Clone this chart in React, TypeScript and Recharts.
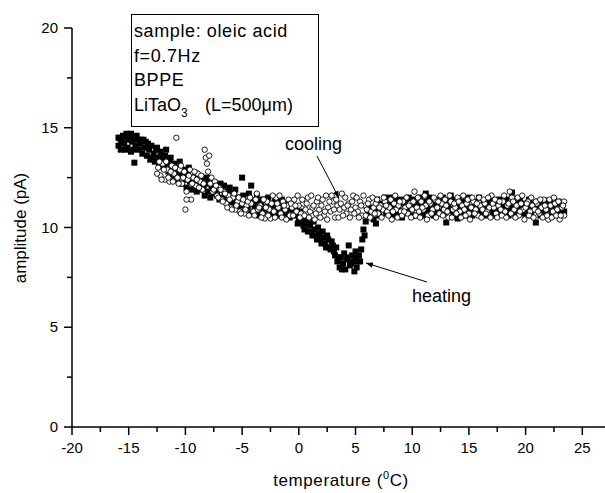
import { ScatterChart, Scatter, XAxis, YAxis } from 'recharts'

// temperature (°C), amplitude (pA) — filled squares
const heatingPoints: [number, number][] = [
  [-15.9, 14.1], [-15.8, 14.5], [-15.7, 13.9], [-15.6, 14.3], [-15.5, 14.6], [-15.4, 14.2], [-15.2, 14.7],
  [-15.1, 14.0], [-15.0, 14.4], [-14.9, 14.6], [-14.8, 13.8], [-14.7, 14.3], [-14.5, 14.5], [-14.5, 13.25],
  [-14.4, 14.1], [-14.3, 14.6], [-14.0, 14.2], [-13.9, 14.4], [-13.8, 13.7], [-13.6, 14.0], [-13.5, 14.3],
  [-13.4, 13.6], [-13.2, 13.9], [-13.1, 13.4], [-13.0, 14.1], [-12.8, 13.7], [-12.7, 13.3], [-12.6, 13.9],
  [-12.4, 13.5], [-12.3, 13.2], [-12.2, 13.8], [-12.0, 13.4], [-11.9, 13.0], [-11.8, 13.6], [-11.6, 13.2],
  [-11.5, 12.8], [-11.4, 13.4], [-11.2, 13.0], [-11.1, 12.6], [-11.0, 13.2], [-10.8, 12.8], [-10.7, 12.4],
  [-10.6, 13.0], [-10.4, 12.6], [-10.3, 12.2], [-10.2, 12.9], [-10.0, 12.4], [-9.9, 12.0], [-9.8, 12.7],
  [-9.6, 12.3], [-9.5, 11.9], [-9.4, 12.5], [-9.2, 12.1], [-9.1, 12.7], [-9.0, 11.8], [-8.8, 12.3],
  [-8.7, 11.9], [-8.6, 12.5], [-8.4, 12.0], [-8.3, 11.6], [-8.2, 12.2], [-8.0, 11.8], [-7.9, 12.3],
  [-7.8, 11.5], [-7.6, 12.0], [-7.5, 11.7], [-7.4, 12.2], [-7.2, 11.6], [-7.1, 12.0], [-7.0, 11.4],
  [-6.8, 11.9], [-6.7, 11.5], [-6.6, 12.1], [-6.4, 11.6], [-6.3, 11.3], [-6.2, 11.8], [-6.0, 11.5],
  [-5.8, 11.2], [-5.7, 11.7], [-5.5, 11.3], [-5.4, 11.0], [-5.2, 11.5], [-5.0, 12.5], [-5.0, 11.1],
  [-4.8, 10.8], [-4.7, 11.3], [-4.5, 11.0], [-4.3, 11.4], [-4.2, 12.1], [-4.2, 10.7], [-4.0, 11.2],
  [-3.8, 10.9], [-3.6, 11.3], [-3.5, 10.6], [-3.3, 11.1], [-3.1, 10.8], [-3.0, 11.4], [-2.8, 10.9],
  [-2.6, 11.2], [-2.4, 10.7], [-2.2, 11.1], [-2.0, 10.8], [-1.8, 11.3], [-1.6, 10.6], [-1.4, 11.0],
  [-1.2, 10.7], [-1.0, 11.2], [-0.8, 10.5], [-0.6, 10.9], [-0.4, 10.6], [-0.2, 11.0], [0.0, 10.4],
  [0.2, 10.6], [0.4, 10.1], [0.6, 10.3], [0.8, 9.8], [1.0, 10.1], [1.2, 9.6], [1.4, 9.9], [1.6, 9.4],
  [1.8, 9.7], [2.0, 9.2], [2.2, 9.5], [2.4, 9.0], [2.6, 9.4], [2.8, 8.9], [3.0, 9.1], [3.2, 8.6],
  [3.4, 8.3], [3.6, 8.0], [3.7, 8.5], [3.9, 8.2], [4.0, 8.7], [4.1, 7.9], [4.3, 8.4], [4.4, 9.1],
  [4.5, 8.1], [4.7, 8.6], [4.8, 8.3], [5.0, 8.5], [5.1, 8.0], [5.3, 8.6], [5.4, 8.3], [5.5, 8.9],
  [5.6, 9.4], [5.7, 9.9], [5.8, 9.6], [5.9, 10.3], [6.1, 10.7], [6.3, 11.0], [6.6, 10.4], [6.8, 10.2],
  [7.0, 10.9], [7.3, 11.2], [7.6, 11.5], [7.9, 11.3], [8.2, 11.1], [8.4, 10.8], [8.6, 11.2], [8.8, 10.9],
  [9.0, 11.4], [9.2, 10.7], [9.4, 11.1], [9.6, 10.9], [9.8, 11.3], [10.0, 10.6], [10.2, 11.0], [10.4, 11.2],
  [10.6, 10.8], [10.8, 11.1], [11.0, 10.9], [11.2, 11.7], [11.4, 11.0], [11.6, 10.7], [11.8, 11.2],
  [12.0, 10.9], [12.2, 11.1], [12.4, 10.8], [12.6, 11.3], [12.8, 10.9], [13.0, 10.25], [13.2, 11.0],
  [13.4, 11.6], [13.6, 10.8], [13.8, 11.2], [14.0, 10.45], [14.2, 11.0], [14.4, 11.3], [14.6, 10.9],
  [14.8, 11.1], [15.0, 11.5], [15.2, 10.8], [15.4, 11.0], [15.6, 11.2], [15.8, 10.9], [16.0, 11.1],
  [16.2, 10.7], [16.4, 11.0], [16.6, 11.3], [16.8, 10.9], [17.0, 11.1], [17.2, 10.8], [17.4, 11.2],
  [17.6, 10.9], [17.8, 11.0], [18.0, 11.3], [18.2, 10.8], [18.4, 11.1], [18.6, 10.9], [18.8, 11.75],
  [19.0, 11.0], [19.2, 10.8], [19.4, 11.2], [19.6, 10.9], [19.8, 11.1], [20.0, 10.7], [20.2, 11.0],
  [20.4, 11.2], [20.6, 10.9], [20.9, 10.25], [21.0, 11.1], [21.2, 10.8], [21.4, 11.0], [21.6, 11.2],
  [21.9, 11.35], [22.0, 10.9], [22.2, 11.1], [22.4, 10.8], [22.6, 11.0], [22.8, 11.2], [23.0, 10.9],
  [23.2, 11.1], [23.4, 10.8],
]

// second sweep of the heating run (the points in between)
const heatingPoints2: [number, number][] = [
  [-15.9, 14.5], [-15.7, 14.4], [-15.3, 13.9], [-15.1, 14.5], [-14.8, 14.7], [-14.6, 13.9], [-14.2, 14.4],
  [-14.1, 13.9], [-13.7, 14.4], [-13.3, 14.2], [-12.9, 13.5], [-12.5, 14.0], [-12.1, 13.6], [-11.7, 13.9],
  [-11.3, 13.5], [-10.9, 12.9], [-10.5, 13.3], [-10.1, 12.6], [-9.7, 13.0], [-9.3, 12.4], [-8.9, 12.6],
  [-8.5, 12.2], [-8.1, 12.5], [-7.7, 12.1], [-7.3, 11.9], [-6.9, 12.2], [-6.5, 11.8], [-6.1, 12.0],
  [-5.9, 11.4], [-5.6, 11.9], [-5.3, 11.2], [-4.9, 11.6], [-4.6, 11.2], [-4.4, 11.7], [-3.9, 11.0],
  [-3.7, 11.6], [-3.4, 10.8], [-3.2, 11.4], [-2.9, 11.0], [-2.7, 11.5], [-2.5, 10.8], [-2.1, 11.3],
  [-1.9, 10.7], [-1.7, 11.0], [-1.5, 11.4], [-1.1, 10.9], [-0.9, 10.6], [-0.5, 11.1], [-0.3, 10.7],
  [-0.1, 10.2], [0.1, 10.8], [0.3, 10.3], [0.5, 9.9], [0.7, 10.5], [0.9, 10.2], [1.1, 9.8], [1.3, 10.3],
  [1.5, 9.6], [1.7, 10.0], [1.9, 9.4], [2.1, 9.8], [2.3, 9.2], [2.5, 9.6], [2.7, 9.0], [2.9, 9.3],
  [3.1, 8.8], [3.3, 9.0], [3.5, 8.5], [3.8, 7.9], [4.2, 8.5], [4.6, 8.2], [4.9, 7.8], [5.0, 8.8],
  [5.2, 8.3], [6.5, 10.9], [6.9, 11.4], [7.1, 10.6], [7.5, 11.0], [7.7, 10.7], [8.1, 11.5], [8.3, 10.6],
  [8.5, 11.4], [8.7, 10.7], [8.9, 11.2], [9.1, 10.5], [9.3, 11.3], [9.5, 10.8], [9.7, 11.5], [9.9, 11.0],
  [10.1, 11.4], [10.3, 10.6], [10.5, 11.1], [10.7, 11.5], [10.9, 10.6], [11.1, 11.3], [11.3, 10.8],
  [11.5, 11.5], [11.7, 11.1], [11.9, 10.6], [12.1, 11.4], [12.3, 10.7], [12.5, 11.2], [12.7, 11.5],
  [12.9, 10.7], [13.1, 11.3], [13.3, 10.9], [13.5, 11.4], [13.7, 10.6], [13.9, 11.1], [14.1, 11.4],
  [14.3, 10.7], [14.5, 11.2], [14.7, 10.6], [14.9, 11.4], [15.1, 11.0], [15.3, 10.6], [15.5, 11.3],
  [15.7, 10.8], [15.9, 11.5], [16.1, 10.9], [16.3, 11.3], [16.5, 10.6], [16.7, 11.1], [16.9, 11.4],
  [17.1, 10.6], [17.3, 11.2], [17.5, 10.9], [17.7, 11.4], [17.9, 10.7], [18.1, 11.1], [18.3, 11.4],
  [18.5, 10.6], [18.7, 11.0], [18.9, 11.3], [19.1, 10.6], [19.3, 11.1], [19.5, 11.4], [19.7, 10.7],
  [19.9, 11.2], [20.1, 10.9], [20.3, 11.4], [20.5, 10.6], [20.7, 11.1], [21.1, 11.3], [21.3, 10.6],
  [21.5, 11.1], [21.7, 10.8], [22.1, 11.3], [22.3, 10.6], [22.5, 11.2], [22.7, 10.7], [22.9, 11.3],
  [23.1, 10.7], [23.3, 11.2],
]

// open circles
const coolingPoints: [number, number][] = [
  [-12.4, 13.0], [-12.2, 12.6], [-12.0, 13.2], [-11.8, 12.4], [-11.6, 12.9], [-11.4, 12.3], [-11.2, 13.1],
  [-11.0, 12.7], [-10.8, 14.5], [-10.7, 12.5], [-10.5, 12.9], [-10.3, 12.2], [-10.1, 12.8], [-9.9, 11.8],
  [-9.8, 12.4], [-9.6, 12.9], [-9.5, 11.4], [-9.3, 12.5], [-9.1, 12.1], [-8.9, 12.7], [-8.7, 12.3],
  [-8.5, 11.9], [-8.3, 13.9], [-8.2, 13.5], [-8.1, 13.2], [-8.0, 12.8], [-7.8, 12.2], [-7.6, 11.8],
  [-7.4, 12.3], [-7.2, 11.6], [-7.0, 12.0], [-6.8, 11.4], [-6.6, 11.8], [-6.4, 11.2], [-6.2, 11.6],
  [-6.0, 11.0], [-5.8, 11.5], [-5.6, 10.9], [-5.4, 11.3], [-5.2, 10.8], [-5.0, 11.2], [-4.8, 10.7],
  [-4.6, 11.1], [-4.4, 10.6], [-4.2, 11.2], [-4.0, 10.8], [-3.8, 11.4], [-3.6, 10.9], [-3.4, 11.1],
  [-3.2, 10.7], [-3.0, 10.45], [-2.8, 11.3], [-2.6, 10.9], [-2.5, 10.45], [-2.4, 11.2], [-2.2, 10.8],
  [-2.0, 11.5], [-1.8, 11.0], [-1.6, 10.7], [-1.4, 11.3], [-1.2, 10.9], [-1.0, 11.1], [-0.8, 10.6],
  [-0.6, 11.0], [-0.4, 11.4], [-0.2, 10.8], [0.0, 11.1], [0.2, 10.7], [0.4, 11.2], [0.6, 10.9],
  [0.8, 11.5], [1.0, 10.8], [1.2, 11.0], [1.4, 10.4], [1.6, 11.3], [1.8, 10.9], [2.0, 11.1], [2.2, 10.6],
  [2.4, 11.6], [2.6, 11.0], [2.8, 10.8], [3.0, 11.3], [3.2, 10.5], [3.4, 11.1], [3.6, 10.9], [3.8, 11.7],
  [4.0, 11.0], [4.2, 10.7], [4.4, 11.2], [4.6, 10.9], [4.8, 11.6], [5.0, 11.0], [5.2, 10.8], [5.4, 11.3],
  [5.6, 10.6], [5.8, 11.1], [6.0, 10.9], [6.2, 11.4], [6.4, 10.8], [6.6, 11.0], [6.8, 11.2], [7.0, 10.7],
  [7.2, 11.1], [7.4, 10.9], [7.6, 11.3], [7.8, 10.8], [8.0, 11.0], [8.2, 10.4], [8.4, 11.2], [8.6, 10.9],
  [8.8, 11.1], [9.0, 10.8], [9.2, 11.3], [9.4, 11.0], [9.6, 10.7], [9.8, 11.2], [10.0, 10.9], [10.2, 11.8],
  [10.4, 11.0], [10.6, 10.8], [10.8, 11.3], [11.0, 10.9], [11.2, 11.1], [11.4, 10.6], [11.6, 11.2],
  [11.8, 10.9], [12.0, 11.4], [12.2, 11.0], [12.4, 10.7], [12.6, 11.2], [12.8, 10.9], [13.0, 11.1],
  [13.2, 10.5], [13.4, 11.3], [13.6, 10.9], [13.8, 11.0], [14.0, 11.5], [14.2, 10.8], [14.4, 11.1],
  [14.6, 10.9], [14.8, 11.2], [15.0, 10.7], [15.2, 11.0], [15.4, 11.3], [15.6, 10.9], [15.8, 10.6],
  [16.0, 11.1], [16.2, 10.9], [16.4, 11.2], [16.6, 10.8], [16.8, 11.0], [17.0, 11.6], [17.2, 11.0],
  [17.4, 10.7], [17.6, 11.1], [17.8, 10.9], [18.0, 11.3], [18.2, 10.8], [18.4, 11.1], [18.6, 11.8],
  [18.8, 11.5], [19.0, 10.9], [19.2, 11.1], [19.4, 10.6], [19.6, 11.2], [19.8, 10.9], [20.0, 11.0],
  [20.2, 11.3], [20.4, 10.8], [20.6, 11.1], [20.8, 10.9], [21.0, 11.2], [21.2, 10.7], [21.4, 11.0],
  [21.6, 11.4], [21.8, 10.9], [22.0, 10.4], [22.2, 11.1], [22.4, 10.8], [22.6, 11.2], [22.8, 10.9],
  [23.0, 10.4], [23.2, 11.0], [23.4, 11.3], [23.4, 10.6],
]

const coolingPoints2: [number, number][] = [
  [-12.5, 12.7], [-12.3, 13.3], [-12.1, 12.4], [-11.9, 12.9], [-11.7, 13.3], [-11.5, 12.5], [-11.3, 12.8],
  [-11.1, 12.3], [-10.9, 13.0], [-10.6, 12.2], [-10.4, 13.1], [-10.2, 12.5], [-10.0, 10.9], [-9.9, 11.4],
  [-9.7, 12.6], [-9.4, 12.2], [-9.2, 12.8], [-9.0, 12.4], [-8.8, 12.0], [-8.6, 12.6], [-8.4, 12.2],
  [-7.9, 13.6], [-7.7, 12.5], [-7.5, 11.9], [-7.3, 12.1], [-7.1, 11.5], [-6.9, 11.9], [-6.7, 11.3],
  [-6.5, 11.7], [-6.3, 11.0], [-6.1, 11.4], [-5.9, 10.9], [-5.7, 11.7], [-5.5, 11.1], [-5.3, 11.5],
  [-5.1, 10.7], [-4.9, 11.4], [-4.7, 10.9], [-4.5, 11.3], [-4.3, 11.5], [-3.9, 10.6], [-3.7, 11.7],
  [-3.5, 11.0], [-3.3, 10.5], [-3.1, 11.4], [-2.9, 11.0], [-2.7, 10.6], [-2.3, 11.6], [-2.1, 10.5],
  [-1.9, 11.2], [-1.7, 11.6], [-1.5, 10.5], [-1.3, 11.1], [-1.1, 10.4], [-0.9, 11.4], [-0.7, 11.2],
  [-0.5, 10.6], [-0.3, 11.1], [-0.1, 11.6], [0.1, 10.5], [0.3, 11.4], [0.5, 10.6], [0.7, 11.2],
  [0.9, 10.5], [1.1, 11.6], [1.3, 11.1], [1.5, 10.7], [1.7, 11.5], [1.9, 10.5], [2.1, 11.4], [2.3, 10.8],
  [2.5, 10.4], [2.7, 11.3], [2.9, 11.6], [3.1, 10.9], [3.3, 11.4], [3.5, 10.5], [3.7, 11.2], [3.9, 10.6],
  [4.1, 11.5], [4.3, 11.1], [4.5, 10.5], [4.7, 11.3], [4.9, 10.7], [5.1, 11.5], [5.3, 10.5], [5.5, 11.1],
  [5.7, 11.6], [5.9, 10.6], [6.1, 11.2], [6.3, 10.5], [6.5, 11.5], [6.7, 10.7], [6.9, 11.4], [7.1, 11.0],
  [7.3, 10.5], [7.5, 11.5], [7.7, 11.1], [7.9, 10.6], [8.1, 11.4], [8.3, 10.8], [8.5, 11.6], [8.7, 10.5],
  [8.9, 11.3], [9.1, 10.6], [9.3, 10.8], [9.5, 11.5], [9.7, 11.1], [9.9, 10.5], [10.1, 11.3], [10.3, 10.6],
  [10.5, 11.5], [10.7, 10.5], [10.9, 11.0], [11.1, 11.6], [11.3, 10.4], [11.5, 11.3], [11.7, 10.7],
  [11.9, 11.5], [12.1, 10.5], [12.3, 11.3], [12.5, 11.6], [12.7, 10.6], [12.9, 11.4], [13.1, 10.8],
  [13.3, 11.6], [13.5, 10.5], [13.7, 11.2], [13.9, 10.7], [14.1, 11.3], [14.3, 10.5], [14.5, 11.6],
  [14.7, 10.6], [14.9, 11.4], [15.1, 10.4], [15.3, 11.5], [15.5, 10.7], [15.7, 11.2], [15.9, 11.5],
  [16.1, 10.5], [16.3, 11.4], [16.5, 10.7], [16.7, 11.5], [16.9, 10.5], [17.1, 11.2], [17.3, 11.4],
  [17.5, 10.5], [17.7, 11.3], [17.9, 10.6], [18.1, 11.6], [18.3, 10.5], [18.5, 11.2], [18.7, 10.7],
  [18.9, 11.3], [19.1, 10.5], [19.3, 11.5], [19.5, 10.8], [19.7, 11.6], [19.9, 10.4], [20.1, 11.2],
  [20.3, 10.6], [20.5, 11.5], [20.7, 10.5], [20.9, 11.3], [21.1, 10.8], [21.3, 11.4], [21.5, 10.5],
  [21.7, 11.1], [21.9, 10.6], [22.1, 11.4], [22.3, 10.5], [22.5, 11.5], [22.7, 10.6], [22.9, 11.3],
  [23.1, 10.6], [23.3, 11.1],
]

const xTicks = [-20, -17.5, -15, -12.5, -10, -7.5, -5, -2.5, 0, 2.5, 5, 7.5, 10, 12.5, 15, 17.5, 20, 22.5, 25]
const yTicks = [0, 2.5, 5, 7.5, 10, 12.5, 15, 17.5, 20]
const legendLines = ['sample: oleic acid', 'f=0.7Hz', 'BPPE']

const FONT = '"Liberation Sans", Arial, sans-serif'
const W = 605
const H = 493

const toRows = (pts: [number, number][]) => pts.map(([t, a]) => ({ t, a }))

const isMajor = (v: number) => v % 5 === 0

function XTick({ x, y, payload }: any) {
  const major = isMajor(payload.value)
  return (
    <g>
      <line x1={x} x2={x} y1={y} y2={y + (major ? 8 : 5)} stroke="#000" strokeWidth={1.5} />
      {major && (
        <text x={x} y={y + 26} textAnchor="middle" fontSize={15} fontFamily={FONT} fill="#000">
          {payload.value}
        </text>
      )}
    </g>
  )
}

function YTick({ x, y, payload }: any) {
  const major = isMajor(payload.value)
  return (
    <g>
      <line x1={x - (major ? 8 : 5)} x2={x} y1={y} y2={y} stroke="#000" strokeWidth={1.5} />
      {major && (
        <text x={x - 14} y={y + 5} textAnchor="end" fontSize={15} fontFamily={FONT} fill="#000">
          {payload.value}
        </text>
      )}
    </g>
  )
}

const Square = ({ cx, cy }: any) => <rect x={cx - 3} y={cy - 3} width={6} height={6} fill="#000" />
const Ring = ({ cx, cy }: any) => <circle cx={cx} cy={cy} r={2.7} fill="#fff" stroke="#000" strokeWidth={0.9} />

export default function App() {
  const heating = toRows([...heatingPoints, ...heatingPoints2])
  const cooling = toRows([...coolingPoints, ...coolingPoints2])

  return (
    <div style={{ position: 'absolute', left: 0, top: 0, width: W, height: H, background: '#fff' }}>
      <ScatterChart width={W} height={H} margin={{ top: 28, right: 0, bottom: 0, left: 0 }}>
        <XAxis
          type="number"
          dataKey="t"
          domain={[-20, 27]}
          ticks={xTicks}
          interval={0}
          height={66}
          tickSize={0}
          tickMargin={0}
          tickLine={false}
          axisLine={{ stroke: '#000', strokeWidth: 1.5 }}
          tick={<XTick />}
        />
        <YAxis
          type="number"
          dataKey="a"
          domain={[0, 20]}
          ticks={yTicks}
          interval={0}
          width={72}
          tickSize={0}
          tickMargin={0}
          tickLine={false}
          axisLine={{ stroke: '#000', strokeWidth: 1.5 }}
          tick={<YTick />}
        />
        <Scatter data={heating} shape={<Square />} isAnimationActive={false} />
        <Scatter data={cooling} shape={<Ring />} isAnimationActive={false} />
      </ScatterChart>

      <svg width={W} height={H} style={{ position: 'absolute', left: 0, top: 0, pointerEvents: 'none' }}>
        <defs>
          <marker id="head" viewBox="0 0 10 10" refX="10" refY="5" markerWidth="7" markerHeight="7" orient="auto">
            <path d="M0,1 L10,5 L0,9 z" fill="#000" />
          </marker>
        </defs>

        {/* info box */}
        <rect x={131.5} y={14.5} width={187} height={112} fill="#fff" stroke="#000" strokeWidth={1} />
        <g fontFamily={FONT} fontSize={18} fill="#000">
          {legendLines.map((s, i) => (
            <text key={s} x={134} y={37 + i * 24.5} letterSpacing={0.6}>{s}</text>
          ))}
          <text x={134} y={110.5}>
            LiTaO<tspan fontSize={12} dy={6}>3</tspan>
            <tspan x={205} dy={-6}>(L=500μm)</tspan>
          </text>
        </g>

        {/* annotations */}
        <g fontFamily={FONT} fontSize={18} fill="#000">
          <text x={285} y={150}>cooling</text>
          <text x={412} y={302}>heating</text>
        </g>
        <line x1={317} y1={156} x2={339} y2={198} stroke="#000" strokeWidth={1} markerEnd="url(#head)" />
        <line x1={427} y1={282} x2={366} y2={263} stroke="#000" strokeWidth={1} markerEnd="url(#head)" />

        {/* axis titles */}
        <text x={341} y={486} textAnchor="middle" fontFamily={FONT} fontSize={17} letterSpacing={0.6} fill="#000">
          temperature (<tspan fontSize={11} dy={-7}>0</tspan><tspan dy={7}>C)</tspan>
        </text>
        <text
          transform="translate(26,228) rotate(-90)"
          textAnchor="middle"
          fontFamily={FONT}
          fontSize={17}
          fill="#000"
        >
          amplitude (pA)
        </text>
      </svg>
    </div>
  )
}
